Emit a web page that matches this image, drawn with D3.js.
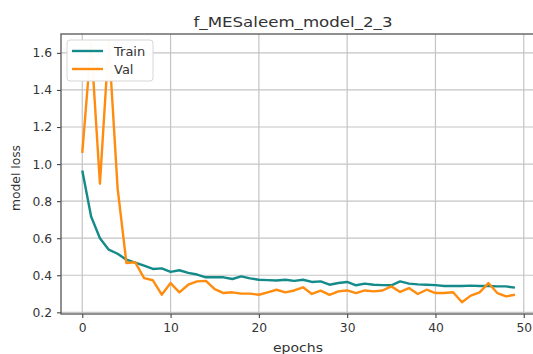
<!DOCTYPE html>
<html>
<head>
<meta charset="utf-8">
<script src="https://cdn.jsdelivr.net/npm/d3@7"></script>
<style>
  body { margin: 0; background: #fff; }
  text { font-family: "DejaVu Sans", sans-serif; fill: #333; }
</style>
</head>
<body>
<div id="chart"></div>
<script>
// values
const epochs = d3.range(0, 50);
const trainLoss = [0.965, 0.717, 0.600, 0.538, 0.516, 0.484, 0.468, 0.452, 0.434, 0.437,
  0.418, 0.427, 0.413, 0.404, 0.389, 0.389, 0.389, 0.380, 0.394, 0.383,
  0.376, 0.374, 0.372, 0.376, 0.370, 0.376, 0.364, 0.367, 0.349, 0.358,
  0.364, 0.346, 0.355, 0.349, 0.347, 0.346, 0.367, 0.355, 0.351, 0.349,
  0.347, 0.342, 0.342, 0.342, 0.344, 0.342, 0.342, 0.340, 0.340, 0.333];
const valLoss = [1.06, 1.65, 0.894, 1.66, 0.87, 0.466, 0.470, 0.385, 0.373, 0.295,
  0.358, 0.308, 0.349, 0.367, 0.370, 0.325, 0.304, 0.308, 0.301, 0.301,
  0.295, 0.308, 0.322, 0.308, 0.318, 0.335, 0.299, 0.317, 0.294, 0.313,
  0.318, 0.304, 0.318, 0.313, 0.318, 0.340, 0.310, 0.331, 0.299, 0.322,
  0.304, 0.304, 0.308, 0.254, 0.290, 0.308, 0.358, 0.304, 0.286, 0.295];
const xTicks = [0, 10, 20, 30, 40, 50];
const yTicks = [0.2, 0.4, 0.6, 0.8, 1.0, 1.2, 1.4, 1.6];
const seriesNames = ["Train", "Val"];
const seriesColors = ["#148a8a", "#ff8c0f"];

const width = 533, height = 354;
const plotLeft = 61, plotTop = 34, plotRight = 537, plotBottom = 314;

const svg = d3.select("#chart").append("svg")
  .attr("width", width)
  .attr("height", height);

const x = d3.scaleLinear().domain([-2.41, 51.5]).range([plotLeft, plotRight]);
const y = d3.scaleLinear().domain([0.191, 1.702]).range([plotBottom, plotTop]);

// grid
svg.append("g").selectAll("line").data(xTicks).enter().append("line")
  .attr("x1", d => x(d)).attr("x2", d => x(d))
  .attr("y1", plotTop).attr("y2", plotBottom)
  .style("stroke", "#c4c4c4").style("stroke-width", 1.2);
svg.append("g").selectAll("line").data(yTicks).enter().append("line")
  .attr("x1", plotLeft).attr("x2", plotRight)
  .attr("y1", d => y(d)).attr("y2", d => y(d))
  .style("stroke", "#c4c4c4").style("stroke-width", 1.2);

// lines
svg.append("clipPath").attr("id", "clip").append("rect")
  .attr("x", plotLeft).attr("y", plotTop)
  .attr("width", plotRight - plotLeft).attr("height", plotBottom - plotTop);

const line = d3.line().x((d, i) => x(epochs[i])).y(d => y(d));
[trainLoss, valLoss].forEach((s, i) => {
  svg.append("path")
    .datum(s)
    .attr("clip-path", "url(#clip)")
    .attr("d", line)
    .style("fill", "none")
    .style("stroke", seriesColors[i])
    .style("stroke-width", 2.4)
    .style("stroke-linejoin", "round");
});

// axes
const xAxis = svg.append("g")
  .attr("transform", "translate(0," + plotBottom + ")")
  .call(d3.axisBottom(x).tickValues(xTicks).tickSize(4).tickPadding(5).tickFormat(d3.format("d")));
const yAxis = svg.append("g")
  .attr("transform", "translate(" + plotLeft + ",0)")
  .call(d3.axisLeft(y).tickValues(yTicks).tickSize(4).tickPadding(5).tickFormat(d3.format(".1f")));
[xAxis, yAxis].forEach(a => {
  a.select(".domain").remove();
  a.selectAll("line").style("stroke", "#444").style("stroke-width", 1.1);
  a.selectAll("text").style("font-size", "12.3px").style("fill", "#333")
    .style("font-family", "'DejaVu Sans', sans-serif");
});

// frame
svg.append("rect")
  .attr("x", plotLeft).attr("y", plotTop)
  .attr("width", plotRight - plotLeft).attr("height", plotBottom - plotTop)
  .style("fill", "none").style("stroke", "#555").style("stroke-width", 1.3);

// titles
svg.append("text").attr("x", 293).attr("y", 27).attr("text-anchor", "middle")
  .attr("textLength", 199).attr("lengthAdjust", "spacingAndGlyphs")
  .style("font-size", "14.5px").text("f_MESaleem_model_2_3");
svg.append("text").attr("x", 298).attr("y", 352).attr("text-anchor", "middle")
  .attr("textLength", 50).attr("lengthAdjust", "spacingAndGlyphs")
  .style("font-size", "12.3px").text("epochs");
svg.append("text")
  .attr("transform", "translate(20," + 178 + ") rotate(-90)")
  .attr("text-anchor", "middle")
  .style("font-size", "12.3px").text("model loss");

// legend
const legend = svg.append("g");
legend.append("rect")
  .attr("x", 67).attr("y", 40).attr("width", 86).attr("height", 41).attr("rx", 3)
  .style("fill", "#fff").style("fill-opacity", 0.97)
  .style("stroke", "#d6d6d6").style("stroke-width", 1);
seriesNames.forEach((n, i) => {
  const ly = 51 + i * 18;
  legend.append("line")
    .attr("x1", 72).attr("x2", 103).attr("y1", ly).attr("y2", ly)
    .style("stroke", seriesColors[i]).style("stroke-width", 2.4);
  legend.append("text").attr("x", 114).attr("y", ly + 4.8)
    .style("font-size", "13px").text(n);
});
</script>
</body>
</html>
